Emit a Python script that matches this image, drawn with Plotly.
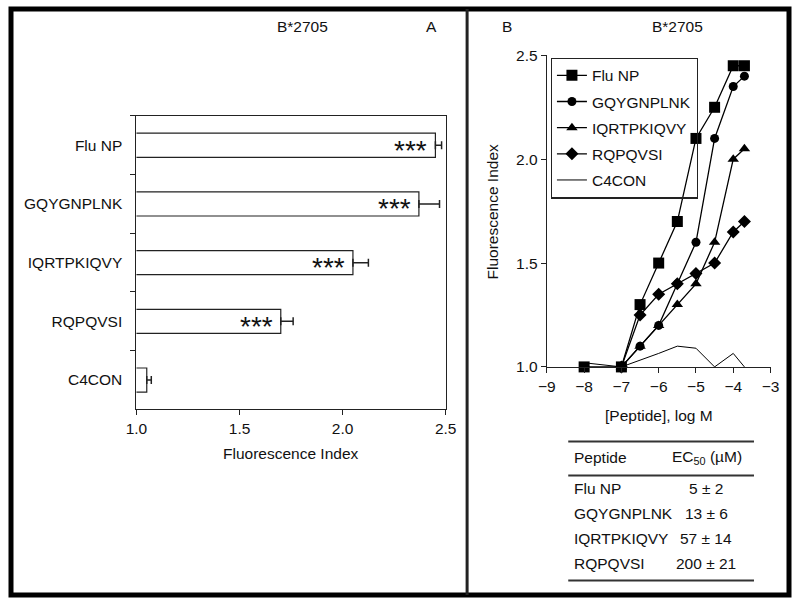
import plotly.graph_objects as go

FONT = "Liberation Sans, Arial, sans-serif"
W, H = 800, 603

# ---------------- Panel A data ----------------
bar_categories = ["Flu NP", "GQYGNPLNK", "IQRTPKIQVY", "RQPQVSI", "C4CON"]
bar_values = [2.45, 2.37, 2.05, 1.70, 1.05]
bar_errors = [0.03, 0.10, 0.075, 0.06, 0.022]
bar_signif = ["***", "***", "***", "***", ""]

# ---------------- Panel B data ----------------
logM = [-8, -7, -6.5, -6, -5.5, -5, -4.5, -4, -3.7]
flu_np = [1.00, 1.00, 1.30, 1.50, 1.70, 2.10, 2.25, 2.45, 2.45]
logM_b = [-7, -6.5, -6, -5.5, -5, -4.5, -4, -3.7]
gqygnplnk = [1.00, 1.10, 1.20, 1.40, 1.60, 2.10, 2.35, 2.40]
iqrtpkiqvy = [1.00, 1.10, 1.20, 1.30, 1.40, 1.60, 2.00, 2.05]
rqpqvsi = [1.00, 1.25, 1.35, 1.40, 1.45, 1.50, 1.65, 1.70]
logM_c = [-8, -7, -6, -5.5, -5, -4.5, -4, -3.7]
c4con = [1.02, 1.00, 1.065, 1.10, 1.09, 1.00, 1.065, 1.00]

# ---------------- Table data ----------------
table_peptides = ["Flu NP", "GQYGNPLNK", "IQRTPKIQVY", "RQPQVSI"]
table_ec50 = ["5 ± 2", "13 ± 6", "57 ± 14", "200 ± 21"]


def px(x):
    return x / W


def py(y):
    return 1 - y / H


fig = go.Figure()

# Panel A bars
fig.add_trace(go.Bar(
    y=bar_categories, x=bar_values, orientation="h",
    marker=dict(color="white", line=dict(color="#222", width=1.2)),
    width=0.41,
    error_x=dict(type="data", array=bar_errors, arrayminus=[0] * len(bar_errors),
                 symmetric=False, color="#222", thickness=1.5, width=4),
    xaxis="x", yaxis="y", showlegend=False,
))

for cat, val, s in zip(bar_categories, bar_values, bar_signif):
    if s:
        fig.add_annotation(x=val, y=cat, xref="x", yref="y", text=s,
                           showarrow=False, xanchor="right", yanchor="middle",
                           xshift=-6, yshift=-5,
                           font=dict(family=FONT, size=28, color="#111"))

# Panel B lines
series = [
    ("Flu NP", logM, flu_np, "square", 11),
    ("GQYGNPLNK", logM_b, gqygnplnk, "circle", 9),
    ("IQRTPKIQVY", logM_b, iqrtpkiqvy, "triangle-up", 10),
    ("RQPQVSI", logM_b, rqpqvsi, "diamond", 10),
]
for name, xs, ys, sym, size in series:
    fig.add_trace(go.Scatter(
        x=xs, y=ys, name=name, legendgroup=name, mode="lines+markers",
        line=dict(color="black", width=1.3),
        marker=dict(symbol=sym, size=size, color="black"),
        cliponaxis=False, xaxis="x2", yaxis="y2",
    ))
fig.add_trace(go.Scatter(
    x=logM_c, y=c4con, name="C4CON", legendgroup="C4CON", mode="lines",
    line=dict(color="black", width=1), cliponaxis=False,
    xaxis="x2", yaxis="y2",
))

axis_font = dict(family=FONT, size=15.5, color="#111")

fig.update_layout(
    width=W, height=H,
    margin=dict(l=0, r=0, t=0, b=0),
    paper_bgcolor="white", plot_bgcolor="white",
    font=axis_font,
    xaxis=dict(domain=[px(129), px(447)], range=[1.0, 2.5], dtick=0.5, tickformat=".1f",
               showline=True, linecolor="#222", linewidth=1.2, mirror=True,
               ticks="outside", ticklen=5, tickcolor="#222", showgrid=False,
               zeroline=False, tickfont=axis_font, anchor="y"),
    yaxis=dict(domain=[py(412), py(110)], autorange="reversed", type="category",
               tickson="boundaries", ticks="outside", ticklen=5, tickcolor="#222",
               showline=True, linecolor="#222", linewidth=1.2, mirror=True,
               showgrid=False, tickfont=axis_font, ticklabelstandoff=10, anchor="x"),
    xaxis2=dict(domain=[px(551), px(781)], range=[-9, -3], dtick=1,
                showline=True, linecolor="#222", linewidth=1.2,
                ticks="outside", ticklen=5, tickcolor="#222", showgrid=False,
                zeroline=False, tickfont=axis_font, anchor="y2"),
    yaxis2=dict(domain=[py(368.3), py(47.7)], range=[1.0, 2.5], dtick=0.5, tickformat=".1f",
                showline=True, linecolor="#222", linewidth=1.2,
                ticks="outside", ticklen=5, tickcolor="#222", showgrid=False,
                zeroline=False, tickfont=axis_font, anchor="x2"),
    legend=dict(x=px(555), y=py(50), xanchor="left", yanchor="top",
                bordercolor="#222", borderwidth=1.2, bgcolor="rgba(255,255,255,0)",
                font=dict(family=FONT, size=15.5, color="#111"),
                tracegroupgap=3, traceorder="grouped", itemwidth=30),
    showlegend=True,
)

annos = [
    dict(x=px(300), y=py(18), text="B*2705"),
    dict(x=px(432), y=py(18), text="A"),
    dict(x=px(510), y=py(18), text="B"),
    dict(x=px(685), y=py(18), text="B*2705"),
    dict(x=px(288), y=py(457), text="Fluorescence Index"),
    dict(x=px(666), y=py(418), text="[Peptide], log M"),
    dict(x=px(495), y=py(208), text="Fluorescence Index", textangle=-90),
    dict(x=px(577), y=py(461), text="Peptide", xanchor="left"),
    dict(x=px(716), y=py(461), text="EC<sub>50</sub> (µM)"),
]
for i, (pep, ec) in enumerate(zip(table_peptides, table_ec50)):
    yy = 493 + i * 26
    annos.append(dict(x=px(577), y=py(yy), text=pep, xanchor="left"))
    annos.append(dict(x=px(715), y=py(yy), text=ec))
for a in annos:
    a.setdefault("xanchor", "center")
    fig.add_annotation(xref="paper", yref="paper", showarrow=False, yanchor="middle",
                       font=dict(family=FONT, size=15.5, color="#111"), **a)

shapes = [
    dict(type="rect", x0=0, x1=1, y0=0, y1=1, line=dict(color="black", width=5)),
    dict(type="line", x0=px(469), x1=px(469), y0=0, y1=1, line=dict(color="#222", width=3)),
    dict(type="line", x0=px(573), x1=px(764), y0=py(445), y1=py(445), line=dict(color="#333", width=2)),
    dict(type="line", x0=px(573), x1=px(764), y0=py(480), y1=py(480), line=dict(color="#333", width=2)),
    dict(type="line", x0=px(573), x1=px(764), y0=py(588), y1=py(588), line=dict(color="#333", width=2)),
]
for s in shapes:
    fig.add_shape(xref="paper", yref="paper", **s)

fig.write_html("out.html", config={"displayModeBar": False},
               post_script="document.body.style.margin='0';document.body.style.overflow='hidden';")
